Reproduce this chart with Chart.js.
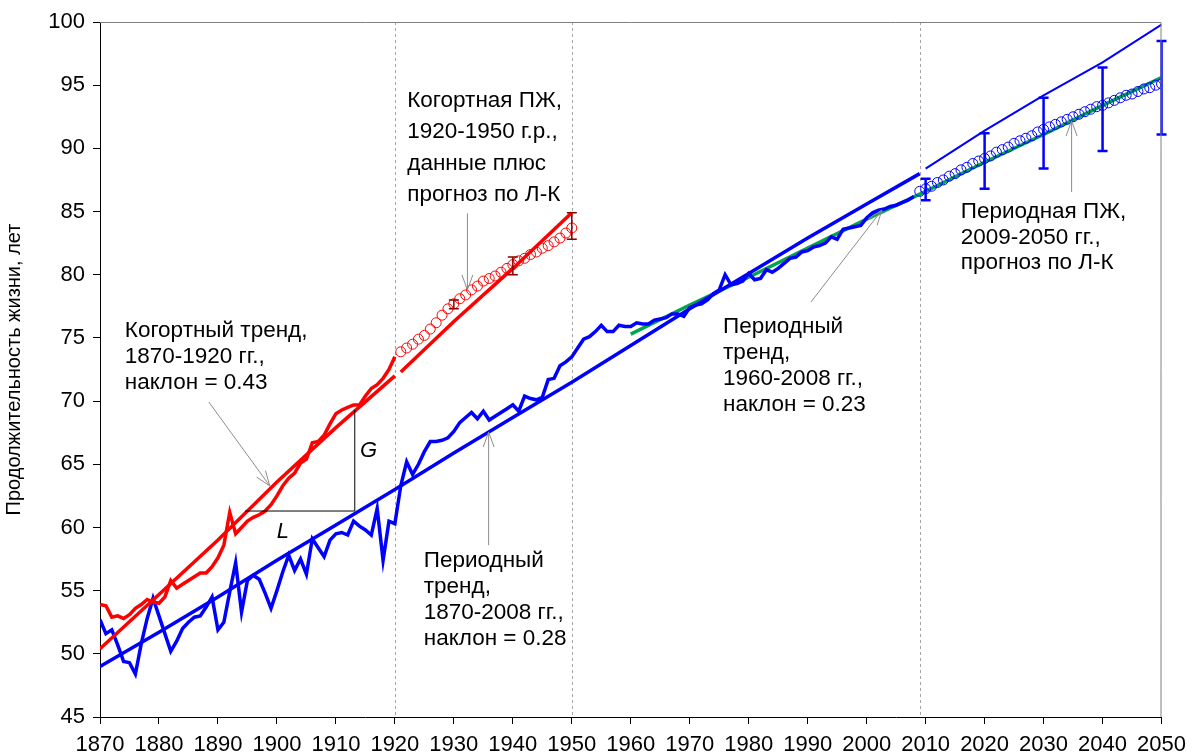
<!DOCTYPE html>
<html>
<head>
<meta charset="utf-8">
<script src="https://cdn.jsdelivr.net/npm/chart.js"></script>
<style>
  body { margin: 0; background: #fff; }
  canvas { display: block; }
</style>
</head>
<body>
<canvas id="grafico" width="1194" height="755"></canvas>
<script>
// Периодная ПЖ (данные), 1870-2008
const anosPeriodo = [];
for (let a = 1870; a <= 2008; a++) anosPeriodo.push(a);
const pzPeriodo = [
  52.7, 51.6, 51.9, 50.7, 49.4, 49.3, 48.4, 50.8, 52.8, 54.4,
  53.0, 51.6, 50.2, 51.0, 52.0, 52.5, 52.9, 53.0, 53.7, 54.5,
  51.9, 52.5, 54.9, 57.2, 53.3, 55.8, 56.2, 55.9, 54.8, 53.6,
  55.0, 56.5, 57.8, 56.6, 57.5, 56.3, 59.1, 58.4, 57.7, 59.0,
  59.5, 59.6, 59.4, 60.5, 60.1, 59.8, 59.4, 61.5, 57.4, 60.5,
  60.3, 63.3, 65.2, 64.2, 65.0, 66.0, 66.8, 66.8, 66.9, 67.1,
  67.6, 68.3, 68.7, 69.1, 68.6, 69.2, 68.5, 68.8, 69.1, 69.4,
  69.7, 69.2, 70.4, 70.2, 70.1, 70.3, 71.7, 71.8, 72.8, 73.1,
  73.5, 74.2, 74.9, 75.1, 75.5, 76.0, 75.5, 75.5, 76.0, 75.9,
  75.9, 76.2, 76.1, 76.1, 76.4, 76.5, 76.6, 76.9, 76.9, 76.7,
  77.4, 77.6, 77.7, 78.0, 78.5, 78.8, 80.0, 79.2, 79.3, 79.5,
  80.1, 79.6, 79.7, 80.4, 80.2, 80.5, 80.9, 81.3, 81.4, 81.8,
  81.9, 82.2, 82.3, 82.5, 83.0, 82.8, 83.6, 83.7, 83.8, 83.9,
  84.5, 84.9, 85.1, 85.2, 85.4, 85.5, 85.7, 85.9, 86.2
];

// Периодный тренд 1870-2008 и продолжение 2010-2050
const anosTrendoPeriodo = [1870, 1880, 1890, 1900, 1910, 1920, 1930, 1940, 1950, 1960, 1970, 1980, 1990, 2000, 2009];
const trendoPeriodo = [49.0, 51.7, 54.5, 57.4, 60.2, 63.0, 65.9, 68.7, 71.5, 74.4, 77.3, 80.1, 82.9, 85.6, 88.0];
const anosTrendoFuturo = [2010, 2020, 2030, 2040, 2050];
const trendoFuturo = [88.4, 91.4, 94.2, 96.8, 99.8];

// Периодный тренд 1960-2008 (зелёный), продлён до 2050
const anosVerde = [1960, 1970, 1980, 1990, 2000, 2010, 2020, 2030, 2040, 2050];
const trendoVerde = [75.3, 77.6, 79.8, 82.1, 84.4, 86.6, 88.9, 91.1, 93.4, 95.6];

// Когортная ПЖ 1870-1920
const anosCoorte = [];
for (let a = 1870; a <= 1920; a++) anosCoorte.push(a);
const pzCoorte = [
  53.9, 53.8, 52.9, 53.0, 52.8, 53.1, 53.6, 53.9, 54.3, 54.1,
  54.0, 54.5, 55.8, 55.2, 55.5, 55.8, 56.1, 56.4, 56.4, 56.9,
  57.6, 58.6, 61.2, 59.5, 60.0, 60.5, 60.8, 61.0, 61.3, 61.8,
  62.5, 63.3, 63.9, 64.3, 65.1, 65.4, 66.7, 66.8, 67.3, 68.2,
  69.0, 69.3, 69.5, 69.7, 69.7, 70.4, 71.0, 71.3, 71.8, 72.5,
  73.5
];

// Когортный тренд
const anosTrendoCoorte = [1870, 1880, 1890, 1900, 1910, 1920];
const trendoCoorte = [50.4, 54.7, 59.0, 63.6, 67.9, 72.0];
const anosTrendoCoorte2 = [1921, 1930, 1940, 1950];
const trendoCoorte2 = [72.3, 76.3, 80.5, 84.9];

// Когортная ПЖ 1921-1950 (данные + прогноз Л-К)
const anosCirculosVermelhos = [];
for (let a = 1921; a <= 1950; a++) anosCirculosVermelhos.push(a);
const circulosVermelhos = [
  73.9, 74.2, 74.5, 74.9, 75.2, 75.7, 76.2, 76.8, 77.3, 77.7,
  78.1, 78.4, 78.8, 79.1, 79.5, 79.7, 79.9, 80.2, 80.5, 80.8,
  81.1, 81.3, 81.6, 81.8, 82.1, 82.3, 82.6, 82.9, 83.3, 83.7
];
const erroVermelhoAnos = [1930, 1940, 1950];
const erroVermelhoMin = [77.3, 80.0, 82.8];
const erroVermelhoMax = [78.0, 81.4, 84.9];

// Периодная ПЖ 2009-2050, прогноз Л-К
const anosCirculosAzuis = [];
for (let a = 2009; a <= 2050; a++) anosCirculosAzuis.push(a);
const circulosAzuis = [
  86.6, 86.8, 87.0, 87.3, 87.5, 87.8, 88.0, 88.3, 88.5, 88.8,
  89.0, 89.2, 89.4, 89.7, 89.9, 90.1, 90.4, 90.6, 90.8, 91.0,
  91.3, 91.5, 91.7, 91.9, 92.1, 92.3, 92.5, 92.7, 92.9, 93.1,
  93.3, 93.4, 93.6, 93.8, 94.0, 94.2, 94.3, 94.5, 94.7, 94.8,
  95.0, 95.1
];
const erroAzulAnos = [2010, 2020, 2030, 2040, 2050];
const erroAzulMin = [85.9, 86.8, 88.4, 89.8, 91.1];
const erroAzulMax = [87.6, 91.2, 94.0, 96.4, 98.5];

const pontos = (xs, ys) => xs.map((x, i) => ({ x: x, y: ys[i] }));

const FONTE = '"Liberation Sans", Arial, sans-serif';

// textos e setas em coordenadas dos dados
const textos = [
  { x: 1922.1, y: 93.8, lh: 31.5, linhas: ['Когортная ПЖ,', '1920-1950 г.р.,', 'данные плюс', 'прогноз по Л-К'] },
  { x: 1874.2, y: 75.6, lh: 26, linhas: ['Когортный тренд,', '1870-1920 гг.,', 'наклон = 0.43'] },
  { x: 1924.9, y: 57.4, lh: 26, linhas: ['Периодный', 'тренд,', '1870-2008 гг.,', 'наклон = 0.28'] },
  { x: 1975.65, y: 75.85, lh: 26, linhas: ['Периодный', 'тренд,', '1960-2008 гг.,', 'наклон = 0.23'] },
  { x: 2015.95, y: 84.95, lh: 25.5, linhas: ['Периодная ПЖ,', '2009-2050 гг.,', 'прогноз по Л-К'] }
];
const setas = [
  [1932.3, 84.85, 1932.3, 78.8],
  [1888.45, 69.93, 1898.8, 63.28],
  [1935.9, 58.6, 1935.9, 67.55],
  [1990.55, 77.84, 2002.6, 85.12],
  [2034.75, 86.55, 2034.75, 92.17]
];
const linhasVerticais = [1920, 1950, 2009];

const anotacoes = {
  id: 'anotacoes',
  beforeDatasetsDraw(chart) {
    const { ctx, chartArea: a, scales: { x } } = chart;
    ctx.save();
    ctx.strokeStyle = '#a6a6a6';
    ctx.lineWidth = 1;
    ctx.setLineDash([3, 3]);
    linhasVerticais.forEach(ano => {
      const px = Math.round(x.getPixelForValue(ano)) + 0.5;
      ctx.beginPath();
      ctx.moveTo(px, a.top);
      ctx.lineTo(px, a.bottom);
      ctx.stroke();
    });
    ctx.restore();
  },
  afterDatasetsDraw(chart) {
    const { ctx, chartArea: a, scales: { x, y } } = chart;
    ctx.save();

    // barras de erro
    const barras = (anos, mins, maxs, cor, larg) => {
      ctx.strokeStyle = cor;
      ctx.lineWidth = larg;
      anos.forEach((ano, i) => {
        const px = x.getPixelForValue(ano);
        const y1 = y.getPixelForValue(mins[i]);
        const y2 = y.getPixelForValue(maxs[i]);
        ctx.beginPath();
        ctx.moveTo(px, y1); ctx.lineTo(px, y2);
        ctx.moveTo(px - 5, y1); ctx.lineTo(px + 5, y1);
        ctx.moveTo(px - 5, y2); ctx.lineTo(px + 5, y2);
        ctx.stroke();
      });
    };
    barras(erroAzulAnos, erroAzulMin, erroAzulMax, '#0000ff', 2.5);
    barras(erroVermelhoAnos, erroVermelhoMin, erroVermelhoMax, '#8b0000', 1.5);

    // L e G
    ctx.strokeStyle = '#000';
    ctx.lineWidth = 1;
    ctx.beginPath();
    ctx.moveTo(x.getPixelForValue(1894.6), y.getPixelForValue(61.3));
    ctx.lineTo(x.getPixelForValue(1913.2), y.getPixelForValue(61.3));
    ctx.lineTo(x.getPixelForValue(1913.2), y.getPixelForValue(69.3));
    ctx.stroke();
    ctx.fillStyle = '#000';
    ctx.font = 'italic 22px ' + FONTE;
    ctx.textAlign = 'center';
    ctx.textBaseline = 'middle';
    ctx.fillText('L', x.getPixelForValue(1901.0), y.getPixelForValue(59.64));
    ctx.fillText('G', x.getPixelForValue(1915.55), y.getPixelForValue(66.05));

    // setas
    ctx.strokeStyle = '#8c8c8c';
    ctx.lineWidth = 1;
    setas.forEach(s => {
      const x1 = x.getPixelForValue(s[0]), y1 = y.getPixelForValue(s[1]);
      const x2 = x.getPixelForValue(s[2]), y2 = y.getPixelForValue(s[3]);
      const ang = Math.atan2(y2 - y1, x2 - x1);
      ctx.beginPath();
      ctx.moveTo(x1, y1); ctx.lineTo(x2, y2);
      ctx.moveTo(x2 - 16 * Math.cos(ang - 0.35), y2 - 16 * Math.sin(ang - 0.35));
      ctx.lineTo(x2, y2);
      ctx.lineTo(x2 - 16 * Math.cos(ang + 0.35), y2 - 16 * Math.sin(ang + 0.35));
      ctx.stroke();
    });

    // textos
    ctx.fillStyle = '#000';
    ctx.font = '22.5px ' + FONTE;
    ctx.textAlign = 'left';
    ctx.textBaseline = 'middle';
    textos.forEach(t => {
      const px = x.getPixelForValue(t.x), py = y.getPixelForValue(t.y);
      t.linhas.forEach((l, i) => ctx.fillText(l, px, py + i * t.lh));
    });

    // moldura superior e direita
    ctx.strokeStyle = '#808080';
    ctx.beginPath();
    ctx.moveTo(a.left, a.top + 0.5);
    ctx.lineTo(a.right - 0.5, a.top + 0.5);
    ctx.lineTo(a.right - 0.5, a.bottom);
    ctx.stroke();
    ctx.restore();
  }
};

const linha = (rotulo, dados, cor, larg, ordem) => ({
  label: rotulo,
  data: dados,
  borderColor: cor,
  borderWidth: larg,
  pointRadius: 0,
  fill: false,
  tension: 0,
  order: ordem
});

const circulos = (rotulo, dados, cor, ordem) => ({
  label: rotulo,
  data: dados,
  showLine: false,
  borderColor: cor,
  pointBorderColor: cor,
  pointBackgroundColor: 'rgba(0,0,0,0)',
  pointRadius: 5,
  pointBorderWidth: 1,
  order: ordem
});

const ctx = document.getElementById('grafico').getContext('2d');
new Chart(ctx, {
  type: 'line',
  data: {
    datasets: [
      circulos('Когортная ПЖ 1921-1950', pontos(anosCirculosVermelhos, circulosVermelhos), '#ff0000', 1),
      circulos('Периодная ПЖ 2009-2050', pontos(anosCirculosAzuis, circulosAzuis), '#0000ff', 2),
      linha('Когортная ПЖ', pontos(anosCoorte, pzCoorte), '#ff0000', 3.5, 3),
      linha('Когортный тренд', pontos(anosTrendoCoorte, trendoCoorte), '#ff0000', 3.5, 4),
      linha('Когортный тренд (прод.)', pontos(anosTrendoCoorte2, trendoCoorte2), '#ff0000', 3.5, 4),
      linha('Периодная ПЖ', pontos(anosPeriodo, pzPeriodo), '#0000ff', 3.5, 5),
      linha('Периодный тренд', pontos(anosTrendoPeriodo, trendoPeriodo), '#0000ff', 3.5, 6),
      linha('Периодный тренд (прод.)', pontos(anosTrendoFuturo, trendoFuturo), '#0000ff', 2, 6),
      linha('Тренд 1960-2008', pontos(anosVerde, trendoVerde), '#00a550', 3.5, 7)
    ]
  },
  options: {
    responsive: false,
    animation: false,
    devicePixelRatio: 1,
    layout: { padding: { top: 22, right: 31, left: 0, bottom: 0 } },
    plugins: { legend: { display: false }, tooltip: { enabled: false } },
    scales: {
      x: {
        type: 'linear',
        min: 1870,
        max: 2050,
        afterFit: s => { s.height = 38; },
        ticks: {
          stepSize: 10,
          color: '#000',
          padding: 8,
          maxRotation: 0,
          font: { size: 22, family: FONTE },
          callback: v => String(v)
        },
        grid: { drawOnChartArea: false, tickLength: 7, color: '#000' },
        border: { color: '#000', width: 1 }
      },
      y: {
        min: 45,
        max: 100,
        afterFit: s => { s.width = 100; },
        ticks: {
          stepSize: 5,
          color: '#000',
          padding: 8,
          font: { size: 22, family: FONTE },
          callback: v => String(v)
        },
        grid: { drawOnChartArea: false, tickLength: 7, color: '#000' },
        border: { color: '#000', width: 1 },
        title: {
          display: true,
          text: 'Продолжительность жизни, лет',
          color: '#000',
          font: { size: 20, family: FONTE },
          padding: { top: 2, bottom: 4 }
        }
      }
    }
  },
  plugins: [anotacoes]
});
</script>
</body>
</html>
